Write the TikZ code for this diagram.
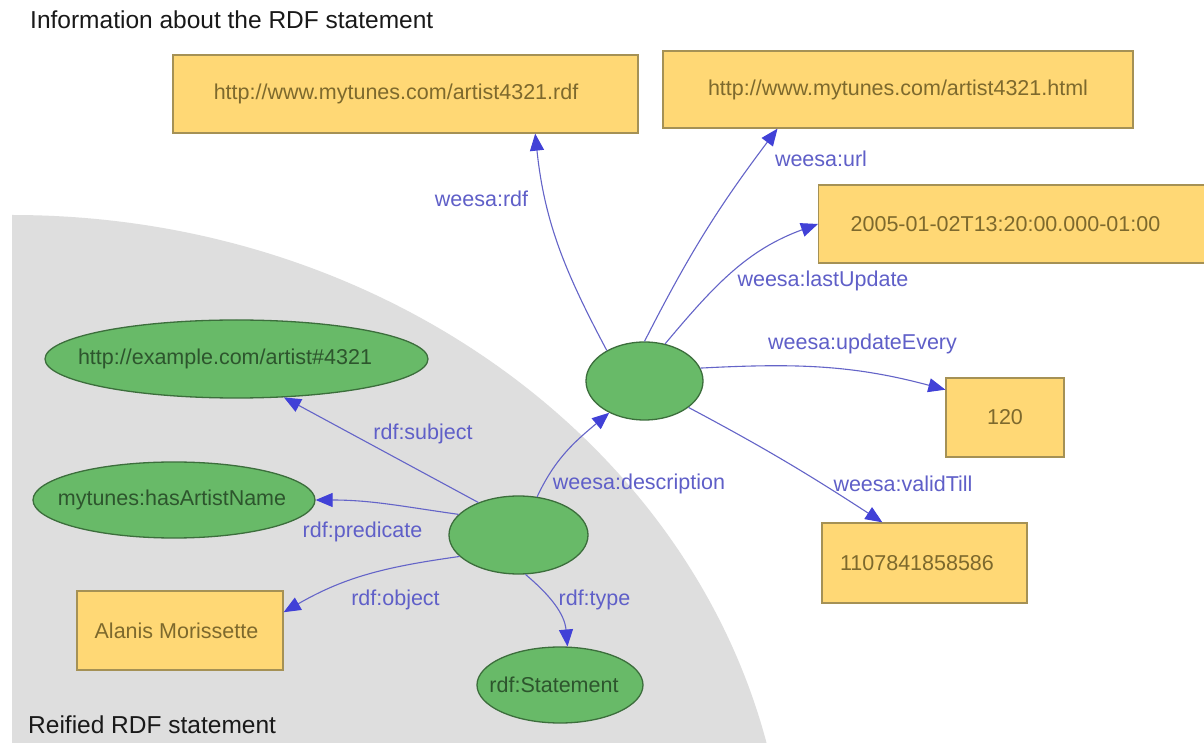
\documentclass[tikz,border=0pt]{standalone}
\usepackage{fontspec}
\setmainfont{Liberation Sans}
\usetikzlibrary{arrows.meta,shapes.geometric}
\definecolor{boxfill}{RGB}{255,216,117}
\definecolor{boxdraw}{RGB}{165,145,85}
\definecolor{boxtext}{RGB}{125,105,45}
\definecolor{ellfill}{RGB}{104,186,104}
\definecolor{elldraw}{RGB}{60,110,60}
\definecolor{elltext}{RGB}{45,85,45}
\definecolor{edgeblue}{RGB}{100,100,200}
\definecolor{arrowblue}{RGB}{65,65,215}
\definecolor{lblblue}{RGB}{95,95,200}
\definecolor{graybg}{RGB}{222,222,222}
\definecolor{titletext}{RGB}{25,25,25}
\begin{document}
\begin{tikzpicture}[x=1pt,y=1pt,
  txt/.style={font=\fontsize{21.5}{25}\selectfont},
  box/.style={txt, draw=boxdraw, line width=1.3pt, fill=boxfill, text=boxtext, inner sep=0pt},
  ell/.style={txt, ellipse, draw=elldraw, line width=1.3pt, fill=ellfill, text=elltext, inner sep=0pt},
  lbl/.style={txt, text=lblblue, anchor=base, inner sep=0pt},
  heading/.style={font=\fontsize{24.5}{28}\selectfont, text=titletext, anchor=base west, inner sep=0pt},
  edge/.style={draw=edgeblue, line width=1.1pt, -{Triangle[length=17pt,width=14pt,color=arrowblue]}},
]
\useasboundingbox (0,0) rectangle (1204,742);
\clip (0,0) rectangle (1204,742);
\fill[white] (0,0) rectangle (1204,742);
% gray region
\begin{scope}
  \clip (12,0) rectangle (1204,742);
  \fill[graybg] (12,-158) ellipse [x radius=775pt, y radius=685pt];
\end{scope}

% headings
\node[heading] (title) at (30,713) {Information about the RDF statement};
\node[heading] (reified) at (28,9) {Reified RDF statement};

% boxes
\node[box, minimum width=465, minimum height=78] (rdfbox) at (405.5,648)
  {\makebox[0pt]{http://www.mytunes.com/artist4321.rdf\hspace{19pt}}};
\node[box, minimum width=470, minimum height=77] (htmlbox) at (898,652.5)
  {\makebox[0pt]{http://www.mytunes.com/artist4321.html}};
\node[box, anchor=west, minimum height=78, text width=338pt, inner xsep=32pt, align=left] (datebox) at (818,518)
  {2005-01-02T13:20:00.000-01:00};
\node[box, minimum width=118, minimum height=79] (box120) at (1005,324.5)
  {\makebox[0pt]{120}};
\node[box, minimum width=205, minimum height=80] (box1107) at (924.5,179)
  {\makebox[0pt]{1107841858586\hspace{15pt}}};
\node[box, minimum width=206, minimum height=79] (alanis) at (180,111.5)
  {\makebox[0pt]{Alanis Morissette\hspace{7pt}}};

% ellipses
\node[ell, minimum width=383, minimum height=78] (artist) at (236.5,383)
  {\makebox[0pt]{http://example.com/artist\#4321\hspace{23pt}}};
\node[ell, minimum width=282, minimum height=76] (hasname) at (174,242)
  {\makebox[0pt]{mytunes:hasArtistName\hspace{4pt}}};
\node[ell, minimum width=139, minimum height=78] (central) at (518.5,207) {};
\node[ell, minimum width=117, minimum height=78] (desc) at (644.5,361) {};
\node[ell, minimum width=166, minimum height=76] (statement) at (560,57)
  {\makebox[0pt]{rdf:Statement\hspace{12pt}}};

% connectors
\draw[edge] (desc.141) to[out=118,in=-84] (rdfbox.-17.3);
\draw[edge] (desc.90) to[out=63,in=-127] (htmlbox.198.8);
\draw[edge] (desc.61) to[out=50,in=-160] (datebox.west);
\draw[edge] (desc.13) to[out=3,in=165] (box120.155);
\draw[edge] (desc.-31) to[out=-28,in=147] (box1107.136.7);
\draw[edge] (central.64) to[out=65,in=-140] (desc.222);
\draw[edge] (central.141.5) -- (artist.-39);
\draw[edge] (central.161) to[out=172,in=0] (hasname.east);
\draw[edge] (central.200) to[out=188,in=30] (alanis.10.2);
\draw[edge] (central.280) to[out=-40,in=95] (statement.79.5);

% connector labels
\node[lbl] (lrdf) at (481.5,535) {weesa:rdf};
\node[lbl] (lurl) at (821,575) {weesa:url};
\node[lbl] (llast) at (823,455) {weesa:lastUpdate};
\node[lbl] (lupd) at (862.5,392) {weesa:updateEvery};
\node[lbl] (lvalid) at (903,250) {weesa:validTill};
\node[lbl] (ldesc) at (639,252) {weesa:description};
\node[lbl] (lsubj) at (423,302) {rdf:subject};
\node[lbl] (lpred) at (362.5,205) {rdf:predicate};
\node[lbl] (lobj) at (395.5,137) {rdf:object};
\node[lbl] (ltype) at (594.5,137) {rdf:type};
\end{tikzpicture}
\end{document}
